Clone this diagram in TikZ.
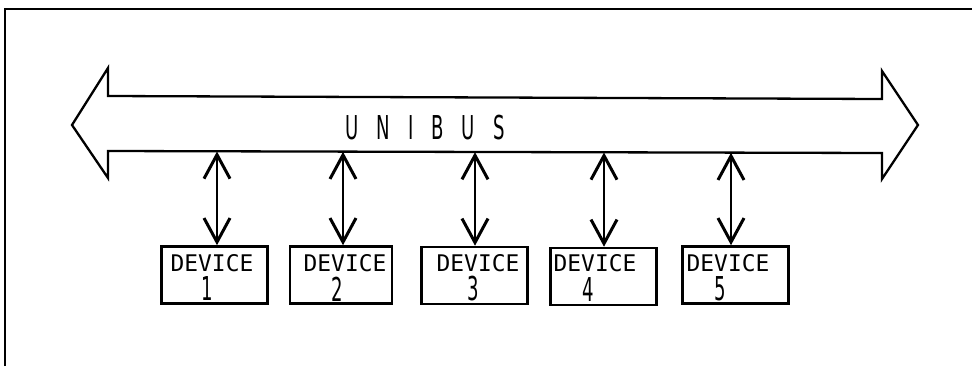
\documentclass[tikz,border=0pt]{standalone}
\usepackage{fontspec}
\usetikzlibrary{arrows.meta}
\newfontfamily\condfont[FakeStretch=0.55]{DejaVu Sans}
\newfontfamily\devfont{DejaVu Sans Mono}
\tikzset{
  frameline/.style={line width=2.6bp},
  busline/.style={line width=2.3bp, line join=miter},
  devbox/.style={draw, line width=2.6bp, minimum width=106bp, minimum height=57bp, inner sep=0pt},
  devtext/.style={inner sep=0pt, font=\devfont\fontsize{23}{23}\selectfont},
  numtext/.style={inner sep=0pt, font=\condfont\fontsize{33}{33}\selectfont},
  link/.style={line width=1.4bp, {Straight Barb[length=24bp,width=26bp,line width=3bp]}-{Straight Barb[length=24bp,width=26bp,line width=3bp]}}
}
\begin{document}
\begin{tikzpicture}[x=1bp,y=-1bp]
\useasboundingbox (0,0) rectangle (972,366);
% frame (left and top edges)
\draw[frameline] (5,366) -- (5,9) -- (972,9);
% UNIBUS double arrow
\draw[busline] (108,96) -- (882,99) -- (882,71) -- (918,125) -- (882,179) -- (882,153) -- (108,151) -- (108,178) -- (72,125) -- (108,68) -- cycle;
\node[inner sep=0pt, font=\condfont\fontsize{33}{33}\selectfont] (bus) at (425,128) {U\hspace{18bp}N\hspace{18bp}I\hspace{18bp}B\hspace{18bp}U\hspace{18bp}S};
% devices
\node[devbox] (dev1) at (214.5,275) {};
\node[devbox, minimum width=102bp] (dev2) at (341,275) {};
\node[devbox] (dev3) at (474.5,275.5) {};
\node[devbox] (dev4) at (603.5,276.5) {};
\node[devbox] (dev5) at (735.5,275) {};
\node[devtext] (t1) at (212,263.5) {DEVICE};
\node[devtext] (t2) at (345,263.5) {DEVICE};
\node[devtext] (t3) at (478,263.5) {DEVICE};
\node[devtext] (t4) at (595,263.5) {DEVICE};
\node[devtext] (t5) at (728,263.5) {DEVICE};
\node[numtext] (n1) at (207,289) {1};
\node[numtext] (n2) at (337,289) {2};
\node[numtext] (n3) at (473,289) {3};
\node[numtext] (n4) at (588,290) {4};
\node[numtext] (n5) at (720,289) {5};
% bus connection points
\coordinate (b1) at (217,151.5);
\coordinate (b2) at (343,151.8);
\coordinate (b3) at (475,152.2);
\coordinate (b4) at (604,152.5);
\coordinate (b5) at (731,152.8);
\draw[link] (b1) -- (b1 |- dev1.north);
\draw[link] (b2) -- (b2 |- dev2.north);
\draw[link] (b3) -- (b3 |- dev3.north);
\draw[link] (b4) -- (b4 |- dev4.north);
\draw[link] (b5) -- (b5 |- dev5.north);
\end{tikzpicture}
\end{document}
